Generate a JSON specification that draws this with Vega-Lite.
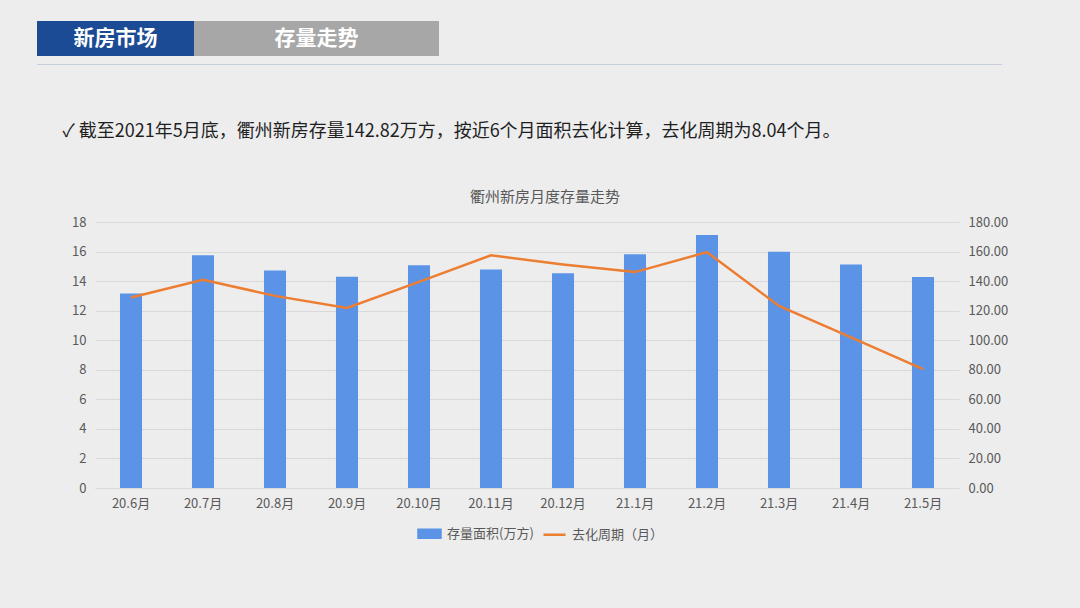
{
  "$schema": "https://vega.github.io/schema/vega-lite/v6.json",
  "background": "#ededee",
  "padding": {"left": 37, "top": 21, "right": 73, "bottom": 65},
  "config": {
    "view": {"stroke": null},
    "font": "Noto Sans CJK SC",
    "concat": {"spacing": 0},
    "axis": {"labelFont": "Noto Sans CJK SC", "labelFontSize": 13, "labelColor": "#595959", "ticks": false, "title": null, "gridColor": "#d9d9d9", "domain": false},
    "legend": {"labelFont": "Noto Sans CJK SC"}
  },
  "spacing": 0,
  "vconcat": [
    {
      "spacing": 2,
      "vconcat": [
        {
          "spacing": 0,
          "hconcat": [
            {
              "width": 157, "height": 35,
              "view": {"fill": "#1b4b94", "stroke": null},
              "data": {"values": [{"t": "新房市场"}]},
              "mark": {"type": "text", "color": "#ffffff", "fontSize": 21, "fontWeight": "bold"},
              "encoding": {"text": {"field": "t"}}
            },
            {
              "width": 245, "height": 35,
              "view": {"fill": "#a7a7a7", "stroke": null},
              "data": {"values": [{"t": "存量走势"}]},
              "mark": {"type": "text", "color": "#ffffff", "fontSize": 21, "fontWeight": "bold"},
              "encoding": {"text": {"field": "t"}}
            }
          ]
        },
        {
          "width": 965, "height": 1,
          "view": {"fill": "#c6cedb", "stroke": null},
          "data": {"values": [{"t": ""}]},
          "mark": {"type": "text"},
          "encoding": {"text": {"field": "t"}}
        }
      ]
    },
    {
      "width": 829, "height": 120,
      "data": {"values": [{"t": "✓  截至2021年5月底，衢州新房存量142.82万方，按近6个月面积去化计算，去化周期为8.04个月。"}]},
      "mark": {"type": "text", "fontSize": 18, "color": "#1f1f1f", "dy": 2},
      "encoding": {"text": {"field": "t"}}
    },
    {
      "spacing": 0,
      "hconcat": [
        {
          "width": 34, "height": 10,
          "data": {"values": [{"t": ""}]},
          "mark": {"type": "text"},
          "encoding": {"text": {"field": "t"}}
        },
        {
          "width": 864, "height": 266,
          "title": {"text": "衢州新房月度存量走势", "fontSize": 15, "fontWeight": "normal", "color": "#595959", "offset": 11, "dx": 18},
          "data": {"values": [
            {"月份": "20.6月", "存量面积": 131.6, "去化周期": 12.89},
            {"月份": "20.7月", "存量面积": 157.5, "去化周期": 14.09},
            {"月份": "20.8月", "存量面积": 147.1, "去化周期": 13.0},
            {"月份": "20.9月", "存量面积": 142.9, "去化周期": 12.18},
            {"月份": "20.10月", "存量面积": 150.8, "去化周期": 13.95},
            {"月份": "20.11月", "存量面积": 147.8, "去化周期": 15.75},
            {"月份": "20.12月", "存量面积": 145.4, "去化周期": 15.13},
            {"月份": "21.1月", "存量面积": 158.2, "去化周期": 14.61},
            {"月份": "21.2月", "存量面积": 171.2, "去化周期": 15.96},
            {"月份": "21.3月", "存量面积": 159.8, "去化周期": 12.32},
            {"月份": "21.4月", "存量面积": 151.2, "去化周期": 10.19},
            {"月份": "21.5月", "存量面积": 142.82, "去化周期": 8.04}
          ]},
          "encoding": {
            "x": {
              "field": "月份", "type": "ordinal", "sort": null,
              "scale": {"paddingInner": 0.694, "paddingOuter": 0.347},
              "axis": {"labelAngle": 0, "domain": true, "domainColor": "#d9d9d9", "labelPadding": 9}
            }
          },
          "layer": [
            {
              "mark": {"type": "bar"},
              "encoding": {
                "y": {
                  "field": "存量面积", "type": "quantitative",
                  "scale": {"domain": [0, 180], "nice": false},
                  "axis": {"orient": "right", "values": [0, 20, 40, 60, 80, 100, 120, 140, 160, 180], "format": ".2f", "grid": false, "labelPadding": 9}
                },
                "color": {
                  "datum": "存量面积(万方)",
                  "scale": {"domain": ["存量面积(万方)", "去化周期（月）"], "range": ["#5b93e6", "#ed7d31"]},
                  "legend": {
                    "orient": "none", "legendX": 380, "legendY": 500,
                    "direction": "horizontal", "title": null,
                    "labelFontSize": 13, "labelColor": "#595959", "symbolSize": 484,
                    "columnPadding": 4, "labelOffset": 5,
                    "encode": {"symbols": {"update": {
                      "shape": {"signal": "datum.value === '存量面积(万方)' ? 'M-1,-0.36H1V0.36H-1Z' : 'stroke'"},
                      "fill": {"signal": "datum.value === '存量面积(万方)' ? '#5b93e6' : 'transparent'"},
                      "stroke": {"signal": "datum.value === '存量面积(万方)' ? 'transparent' : '#ed7d31'"},
                      "strokeWidth": {"value": 2.5},
                      "opacity": {"value": 1}
                    }}}
                  }
                }
              }
            },
            {
              "mark": {"type": "line", "strokeWidth": 2.5},
              "encoding": {
                "y": {
                  "field": "去化周期", "type": "quantitative",
                  "scale": {"domain": [0, 18], "nice": false},
                  "axis": {"orient": "left", "values": [0, 2, 4, 6, 8, 10, 12, 14, 16, 18], "grid": true, "labelPadding": 9}
                },
                "color": {"datum": "去化周期（月）"}
              }
            }
          ],
          "resolve": {"scale": {"y": "independent"}}
        }
      ]
    }
  ]
}
